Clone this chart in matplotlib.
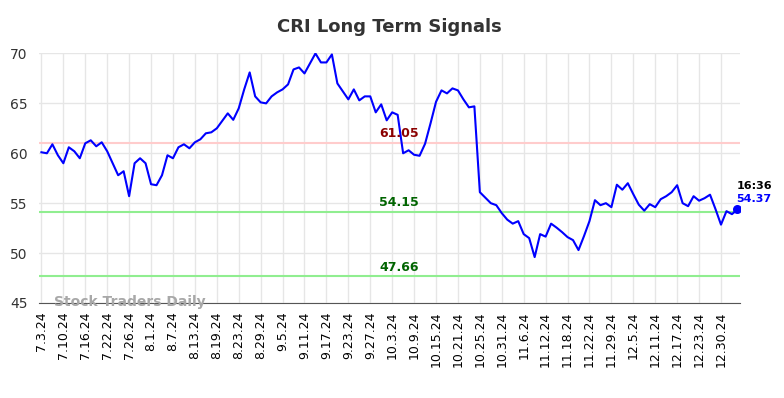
import numpy as np
import matplotlib
matplotlib.use('Agg')
import matplotlib.pyplot as plt

# 信号数值 (每个交易日一个点)
values = [
    60.1, 60.0, 60.9, 59.8, 59.0, 60.6, 60.2, 59.5, 61.0, 61.3,
    60.7, 61.1, 60.2, 59.0, 57.8, 58.2, 55.7, 59.0, 59.5, 59.0,
    56.9, 56.8, 57.8, 59.8, 59.5, 60.6, 60.9, 60.5, 61.1, 61.4,
    62.0, 62.1, 62.5, 63.25, 64.0, 63.35, 64.5, 66.4, 68.1, 65.7,
    65.1, 65.0, 65.7, 66.1, 66.4, 66.9, 68.4, 68.6, 68.0, 69.0,
    70.0, 69.1, 69.1, 69.9, 67.0, 66.2, 65.4, 66.4, 65.3, 65.7,
    65.7, 64.1, 64.9, 63.3, 64.1, 63.85, 60.0, 60.3, 59.85, 59.75,
    60.95, 63.0, 65.15, 66.3, 66.0, 66.5, 66.3, 65.4, 64.6, 64.7,
    56.1, 55.55, 55.0, 54.8, 54.0, 53.35, 52.95, 53.2, 51.9, 51.5,
    49.6, 51.9, 51.65, 52.95, 52.55, 52.1, 51.6, 51.3, 50.3, 51.7,
    53.2, 55.3, 54.8, 55.0, 54.6, 56.85, 56.35, 57.0, 55.9, 54.85,
    54.25, 54.9, 54.6, 55.4, 55.7, 56.1, 56.8, 55.0, 54.7, 55.7,
    55.25, 55.5, 55.85, 54.4, 52.85, 54.2, 53.9, 54.37,
]

tick_labels = ['7.3.24', '7.10.24', '7.16.24', '7.22.24', '7.26.24', '8.1.24', '8.7.24',
               '8.13.24', '8.19.24', '8.23.24', '8.29.24', '9.5.24', '9.11.24', '9.17.24',
               '9.23.24', '9.27.24', '10.3.24', '10.9.24', '10.15.24', '10.21.24',
               '10.25.24', '10.31.24', '11.6.24', '11.12.24', '11.18.24', '11.22.24',
               '11.29.24', '12.5.24', '12.11.24', '12.17.24', '12.23.24', '12.30.24']
tick_step = 4

resistance = 61.05
supports = [54.15, 47.66]
last_time = '16:36'

x = np.arange(len(values))

fig = plt.figure(figsize=(7.84, 3.98), dpi=100)
ax = fig.add_axes([0.0497, 0.2387, 0.8944, 0.627])

ax.grid(True, color='#e6e6e6', linewidth=1)
ax.set_axisbelow(True)

ax.axhline(resistance, color='#ffcccc', linewidth=1.5, zorder=1)
for s in supports:
    ax.axhline(s, color='#90ee90', linewidth=1.5, zorder=1)

ax.plot(x, values, color='#0000ff', linewidth=1.5, zorder=3)
ax.scatter([x[-1]], [values[-1]], color='#0000ff', s=30, zorder=4)

# 支撑/阻力标注
lab_x = 65.3
ax.text(lab_x, resistance + 0.25, f'{resistance:.2f}', color='#8b0000',
        fontweight='bold', fontsize=9, ha='center', va='bottom')
for s in supports:
    ax.text(lab_x, s + 0.25, f'{s:.2f}', color='#006400',
            fontweight='bold', fontsize=9, ha='center', va='bottom')

ax.text(x[-1] - 0.2, values[-1] + 1.08, f'{values[-1]:.2f}', color='#0000ff',
        fontweight='bold', fontsize=8, ha='left', va='center', clip_on=False)
ax.text(x[-1] - 0.2, values[-1] + 2.38, last_time, color='black',
        fontweight='bold', fontsize=8, ha='left', va='center', clip_on=False)

ax.text(2.3, 45.1, 'Stock Traders Daily', color='#a8a8a8', fontweight='bold',
        fontsize=10, ha='left', va='center')

ax.set_xlim(-0.45, 127.5)
ax.set_ylim(45, 70)
ax.set_yticks([45, 50, 55, 60, 65, 70])
ax.set_xticks(np.arange(len(tick_labels)) * tick_step)
ax.set_xticklabels(tick_labels, rotation=90, fontsize=9)
ax.tick_params(axis='y', labelsize=10, colors='#333333', length=0, pad=8)
ax.tick_params(axis='x', length=0, pad=6)

for side in ['top', 'right', 'left']:
    ax.spines[side].set_visible(False)
ax.spines['bottom'].set_color('#555555')

fig.suptitle('CRI Long Term Signals', x=0.497, y=0.955, fontsize=13,
             fontweight='bold', color='#333333')

fig.savefig('out.png', dpi=100)
